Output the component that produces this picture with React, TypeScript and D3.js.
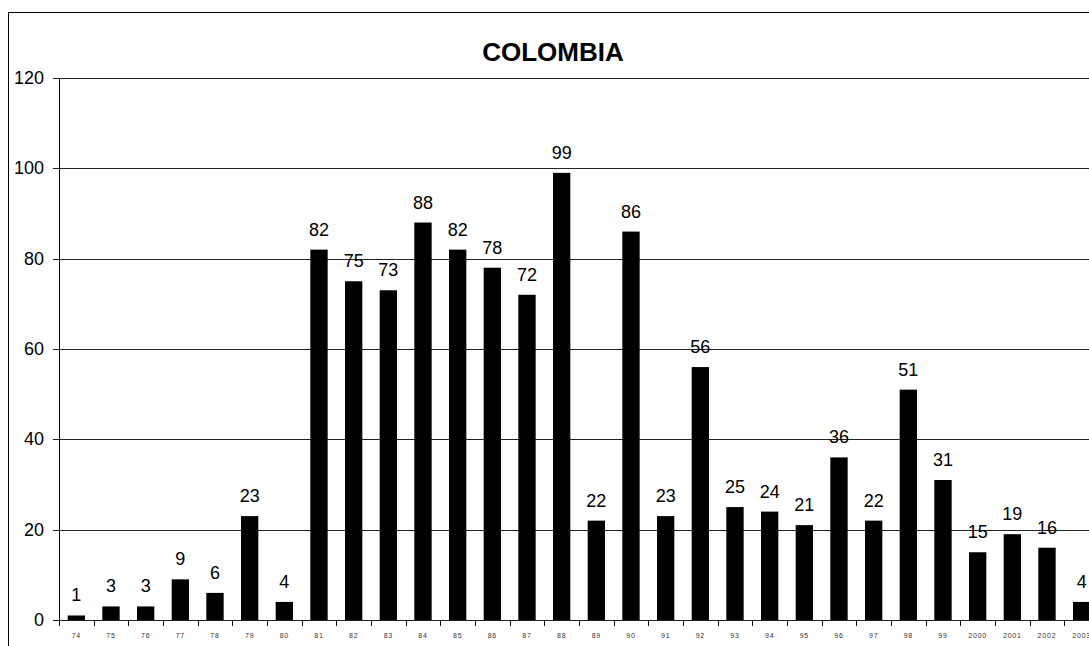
import React from "react";
import * as d3 from "d3";

const categories = ["74","75","76","77","78","79","80","81","82","83","84","85","86","87","88","89","90","91","92","93","94","95","96","97","98","99","2000","2001","2002","2003"];
const values = [1,3,3,9,6,23,4,82,75,73,88,82,78,72,99,22,86,23,56,25,24,21,36,22,51,31,15,19,16,4];
const yTicks = [0,20,40,60,80,100,120];
const title = "COLOMBIA";

export default function App() {
  const W = 1089, H = 646;
  const left = 59, right = 1099, top = 78, bottom = 620;
  const x = d3.scaleBand<string>().domain(categories).range([left, right]).paddingInner(0.5).paddingOuter(0.25);
  const xb = d3.scaleBand<string>().domain(categories).range([left, right]);
  const y = d3.scaleLinear().domain([0, 120]).range([bottom, top]);
  const font = "Arial, 'Liberation Sans', sans-serif";
  return (
    <svg width={W} height={H} style={{ position: "absolute", left: 0, top: 0, background: "#fff" }} fontFamily={font}>
      <rect x={8.5} y={12.5} width={1200} height={700} fill="none" stroke="#000" strokeWidth={1} />
      <text x={553} y={61} textAnchor="middle" fontSize={26} fontWeight="bold">{title}</text>
      {yTicks.map(t => (
        <g key={t}>
          <line x1={left - 6} x2={right} y1={Math.round(y(t)) + 0.5} y2={Math.round(y(t)) + 0.5} stroke="#222" strokeWidth={1} />
          <text x={44} y={y(t) + 6} textAnchor="end" fontSize={18}>{t}</text>
        </g>
      ))}
      <line x1={left + 0.5} x2={left + 0.5} y1={top} y2={bottom + 6} stroke="#000" />
      {categories.map((c, i) => (
        <g key={c}>
          <line x1={Math.round(xb(c)! + xb.bandwidth()) + 0.5} x2={Math.round(xb(c)! + xb.bandwidth()) + 0.5} y1={bottom} y2={bottom + 6} stroke="#000" />
          <rect x={x(c)!} y={y(values[i])} width={x.bandwidth()} height={bottom - y(values[i])} fill="#000" />
          <text x={x(c)! + x.bandwidth() / 2} y={y(values[i]) - 14} textAnchor="middle" fontSize={18}>{values[i]}</text>
          <text x={xb(c)! + xb.bandwidth() / 2} y={638} textAnchor="middle" fontSize={7} letterSpacing={0.8} fill="#333">{c}</text>
        </g>
      ))}
    </svg>
  );
}
